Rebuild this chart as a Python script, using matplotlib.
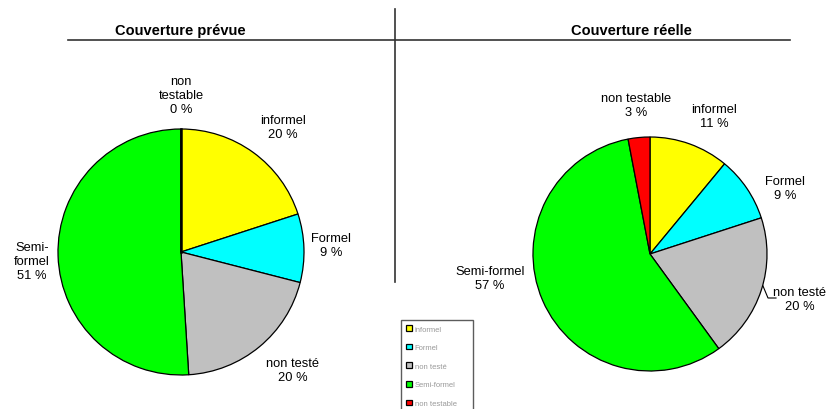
import matplotlib
matplotlib.use("Agg")
import matplotlib.pyplot as plt

plt.rcParams['font.family'] = ['Liberation Sans', 'DejaVu Sans']

categories = ["informel", "Formel", "non testé", "Semi-formel", "non testable"]
colors = ["#FFFF00", "#00FFFF", "#C0C0C0", "#00FF00", "#FF0000"]
prevue = [20, 9, 20, 51, 0]
reelle = [11, 9, 20, 57, 3]
titles = ["Couverture prévue", "Couverture réelle"]

labels_prevue = ["informel\n20 %", "Formel\n9 %", "non testé\n20 %", "Semi-\nformel\n51 %", "non\ntestable\n0 %"]
labels_reelle = ["informel\n11 %", "Formel\n9 %", "non testé\n20 %", "Semi-formel\n57 %", "non testable\n3 %"]

W, H = 833, 410
fig = plt.figure(figsize=(W / 100, H / 100), dpi=100)
ax = fig.add_axes([0, 0, 1, 1])

def Y(y):
    return H - y

wp = dict(edgecolor='black', linewidth=0.9)
wedges1, _ = ax.pie(prevue, colors=colors, startangle=90, counterclock=False,
                    center=(181, Y(253)), radius=123, wedgeprops=wp, frame=True)
wedges2, _ = ax.pie(reelle, colors=colors, startangle=90, counterclock=False,
                    center=(650, Y(255)), radius=117, wedgeprops=wp, frame=True)
ax.set_xlim(0, W)
ax.set_ylim(0, H)
ax.set_aspect('equal')
ax.axis('off')
ax.plot([181, 181], [Y(253), Y(130)], color='black', lw=1.8)

# separator lines
ax.plot([68, 790], [Y(41), Y(41)], color="#333333", lw=1.2)
ax.plot([395, 395], [Y(10), Y(283)], color="#333333", lw=1.2)

# titles
ax.text(180, Y(31), titles[0], ha='center', va='center', fontsize=10.5, fontweight='bold')
ax.text(631, Y(31), titles[1], ha='center', va='center', fontsize=10.5, fontweight='bold')

fs = 9.3
# left pie labels
lpos1 = [(283, 128), (331, 246), (293, 371), (32, 262), (181, 96)]
for (x, y), t in zip(lpos1, labels_prevue):
    ax.text(x, Y(y), t, ha='center', va='center', fontsize=fs, linespacing=1.25)
# right pie labels
lpos2 = [(714, 117), (785, 189), (800, 300), (490, 279), (636, 106)]
for (x, y), t in zip(lpos2, labels_reelle):
    ax.text(x, Y(y), t, ha='center', va='center', fontsize=fs, linespacing=1.25)
ax.plot([763, 768, 776], [Y(287), Y(299), Y(299)], color='black', lw=0.8)

leg = ax.legend(wedges2, categories, loc='upper left',
                bbox_to_anchor=(401 / W, 1 - 321 / H, 72 / W, 0.001),
                bbox_transform=fig.transFigure, mode='expand',
                fontsize=5.5, frameon=True, fancybox=False, edgecolor='#333333',
                handlelength=0.8, handleheight=0.8, handletextpad=0.3,
                labelspacing=1.45, borderpad=0.7, borderaxespad=0,
                labelcolor='#999999')
leg.get_frame().set_linewidth(1.0)

fig.savefig("out.png", dpi=100)
